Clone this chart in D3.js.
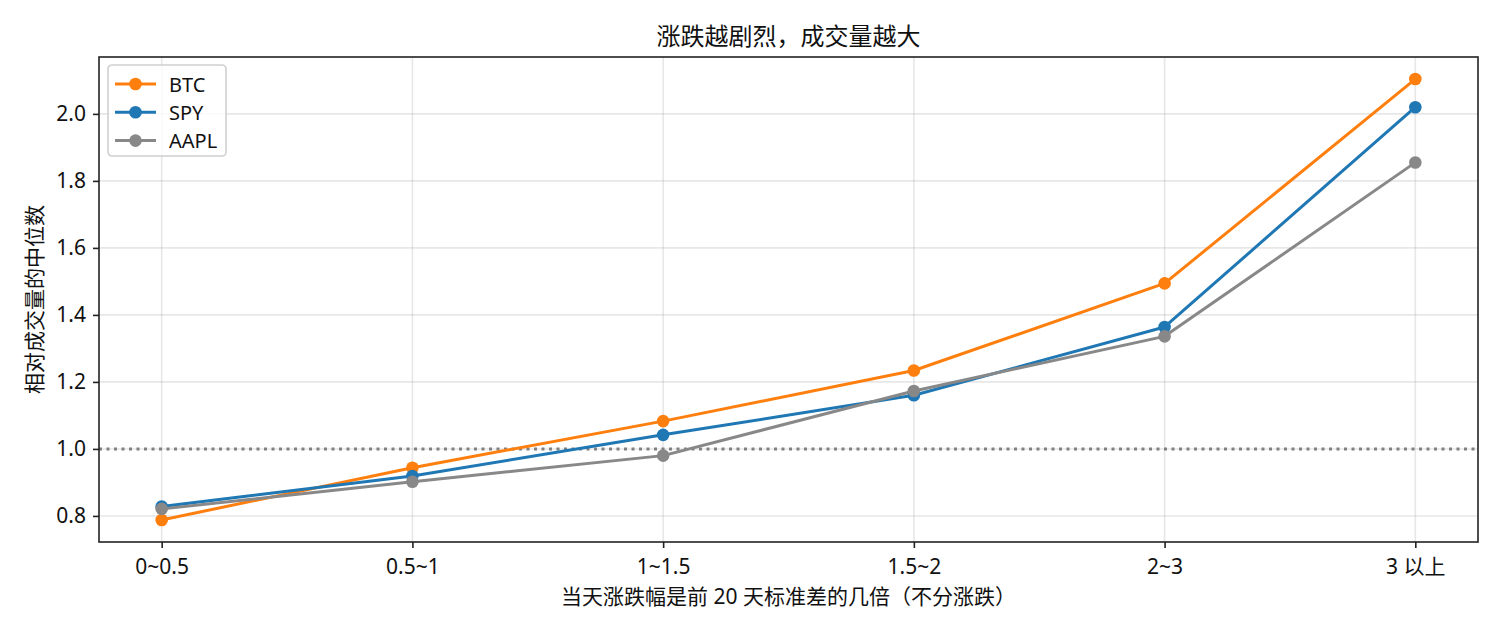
<!DOCTYPE html>
<html>
<head>
<meta charset="utf-8">
<script src="https://cdn.jsdelivr.net/npm/d3@7"></script>
<style>
  body { margin: 0; background: #fff; }
  svg { font-family: "Noto Sans", "Noto Sans CJK SC", sans-serif; }
</style>
</head>
<body>
<div class="volume-graph"></div>
<script>
// data
var categories = ["0~0.5", "0.5~1", "1~1.5", "1.5~2", "2~3", "3 以上"];
var btc  = [0.788, 0.944, 1.083, 1.234, 1.494, 2.104];
var spy  = [0.828, 0.919, 1.042, 1.160, 1.364, 2.020];
var aapl = [0.821, 0.902, 0.980, 1.173, 1.336, 1.855];
var yTicks = [0.8, 1.0, 1.2, 1.4, 1.6, 1.8, 2.0];

var series = [
  {name: "BTC",  values: btc,  color: "#ff7f0e"},
  {name: "SPY",  values: spy,  color: "#1f77b4"},
  {name: "AAPL", values: aapl, color: "#888888"}
];

// canvas and plot area
var W = 1500, H = 630;
var margin = {top: 57, right: 22, bottom: 88, left: 99},
    width = W - margin.left - margin.right,
    height = H - margin.top - margin.bottom;

var svg = d3.select(".volume-graph").append("svg")
    .attr("width", W)
    .attr("height", H);

var g = svg.append("g")
    .attr("transform", "translate(" + margin.left + "," + margin.top + ")");

// scales, with matplotlib-like 5% margins
var x = d3.scalePoint()
    .domain(categories)
    .range([0, width])
    .padding(0.25);

var all = btc.concat(spy, aapl);
var lo = d3.min(all), hi = d3.max(all), pad = (hi - lo) * 0.05;
var y = d3.scaleLinear()
    .domain([lo - pad, hi + pad])
    .range([height, 0]);

// grid
g.append("g").selectAll("line")
    .data(yTicks)
    .enter().append("line")
    .attr("x1", 0).attr("x2", width)
    .attr("y1", function(d) { return y(d) })
    .attr("y2", function(d) { return y(d) })
    .attr("stroke", "#b0b0b0").attr("stroke-opacity", 0.3).attr("stroke-width", 1.6);

g.append("g").selectAll("line")
    .data(categories)
    .enter().append("line")
    .attr("x1", function(d) { return x(d) })
    .attr("x2", function(d) { return x(d) })
    .attr("y1", 0).attr("y2", height)
    .attr("stroke", "#b0b0b0").attr("stroke-opacity", 0.3).attr("stroke-width", 1.6);

// reference line at 1.0
g.append("line")
    .attr("x1", 0).attr("x2", width)
    .attr("y1", y(1)).attr("y2", y(1))
    .attr("stroke", "#808080")
    .attr("stroke-width", 3)
    .attr("stroke-dasharray", "3,4.5");

// lines and markers
var line = d3.line()
    .x(function(d, i) { return x(categories[i]) })
    .y(function(d) { return y(d) });

series.forEach(function(s) {
  g.append("path")
      .datum(s.values)
      .attr("d", line)
      .attr("fill", "none")
      .attr("stroke", s.color)
      .attr("stroke-width", 3)
      .attr("stroke-linejoin", "round")
      .attr("stroke-linecap", "square");

  g.append("g").selectAll("circle")
      .data(s.values)
      .enter().append("circle")
      .attr("cx", function(d, i) { return x(categories[i]) })
      .attr("cy", function(d) { return y(d) })
      .attr("r", 6.3)
      .attr("fill", s.color);
});

// axes
var xAxis = g.append("g")
    .attr("transform", "translate(0," + height + ")")
    .call(d3.axisBottom(x).tickSize(6).tickPadding(7));

var yAxis = g.append("g")
    .call(d3.axisLeft(y).tickValues(yTicks).tickFormat(d3.format(".1f")).tickSize(6).tickPadding(7));

[xAxis, yAxis].forEach(function(a) {
  a.select(".domain").remove();
  a.selectAll(".tick line").attr("stroke", "#222").attr("stroke-width", 1.6);
  a.selectAll(".tick text")
      .attr("fill", "#111")
      .style("font-size", "21px")
      .style("font-family", "\"Noto Sans\", \"Noto Sans CJK SC\", sans-serif");
});
xAxis.selectAll(".tick text").attr("dy", "0.9em");

// frame
g.append("rect")
    .attr("width", width).attr("height", height)
    .attr("fill", "none").attr("stroke", "#222").attr("stroke-width", 1.6);

// title and axis labels
svg.append("text")
    .attr("x", margin.left + width / 2).attr("y", 35)
    .attr("text-anchor", "middle").attr("dominant-baseline", "central")
    .style("font-size", "24px").attr("fill", "#111")
    .text("涨跌越剧烈，成交量越大");

svg.append("text")
    .attr("x", margin.left + width / 2).attr("y", 596)
    .attr("text-anchor", "middle").attr("dominant-baseline", "central")
    .style("font-size", "21px").attr("fill", "#111")
    .text("当天涨跌幅是前 20 天标准差的几倍（不分涨跌）");

svg.append("text")
    .attr("transform", "translate(34," + (margin.top + height / 2) + ") rotate(-90)")
    .attr("text-anchor", "middle").attr("dominant-baseline", "central")
    .style("font-size", "21px").attr("fill", "#111")
    .text("相对成交量的中位数");

// legend
var legend = g.append("g").attr("transform", "translate(9,8)");
legend.append("rect")
    .attr("width", 118).attr("height", 91).attr("rx", 4)
    .attr("fill", "#fff").attr("fill-opacity", 0.8)
    .attr("stroke", "#d0d0d0").attr("stroke-width", 1.6);

var item = legend.selectAll(".item")
    .data(series)
    .enter().append("g")
    .attr("class", "item")
    .attr("transform", function(d, i) { return "translate(0," + (19 + i * 28.3) + ")" });

item.append("line")
    .attr("x1", 7).attr("x2", 48)
    .attr("stroke", function(d) { return d.color })
    .attr("stroke-width", 3);
item.append("circle")
    .attr("cx", 27.5).attr("r", 6.3)
    .attr("fill", function(d) { return d.color });
item.append("text")
    .attr("x", 61).attr("dominant-baseline", "central")
    .style("font-size", "20px").attr("fill", "#111")
    .text(function(d) { return d.name });
</script>
</body>
</html>
